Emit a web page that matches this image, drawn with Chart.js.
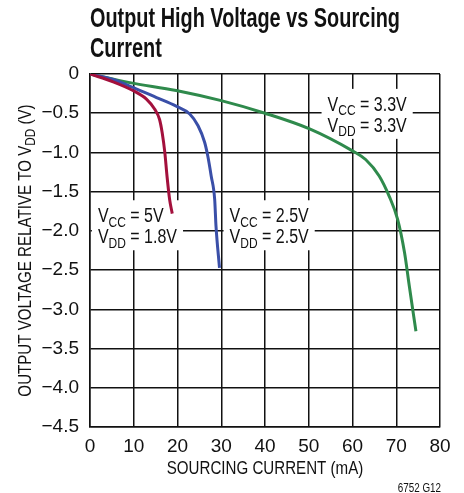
<!DOCTYPE html>
<html lang="en">
<head>
    <meta charset="UTF-8">
    <title>Output High Voltage vs Sourcing Current</title>
    <style>
        body {
            margin: 0;
            padding: 0;
            background: #fff;
        }

        .wrap {
            position: relative;
            width: 464px;
            height: 493px;
        }
    </style>
</head>
<body>
<div class="wrap">
    <canvas id="vohChart" width="464" height="493"></canvas>
</div>
<script src="https://cdn.jsdelivr.net/npm/chart.js"></script>
<script>
    // values (mA, V relative to VDD)
    const redCurrent = [0, 5.3, 9.8, 12.9, 14.8, 15.9, 16.5, 17.1, 17.6, 18.2, 18.8];
    const redVoltage = [0, -0.10, -0.21, -0.32, -0.45, -0.58, -0.75, -1.0, -1.30, -1.60, -1.78];

    const blueCurrent = [0, 5.3, 9.8, 15.2, 19.7, 22.8, 24.7, 26.2, 26.9, 27.7, 28.5, 28.8, 29.6];
    const blueVoltage = [0, -0.07, -0.17, -0.30, -0.41, -0.51, -0.66, -0.87, -1.04, -1.30, -1.60, -1.94, -2.47];

    const greenCurrent = [0, 9.1, 19.7, 30, 40, 50.2, 60, 63, 66.1, 68.4, 70.3, 71.9, 73, 74.5];
    const greenVoltage = [0, -0.11, -0.21, -0.34, -0.50, -0.70, -0.98, -1.09, -1.30, -1.56, -1.85, -2.28, -2.71, -3.28];

    const xTicks = [0, 10, 20, 30, 40, 50, 60, 70, 80];
    const yTicks = [0, -0.5, -1.0, -1.5, -2.0, -2.5, -3.0, -3.5, -4.0, -4.5];

    // curve labels: two lines of [main, subscript, rest], anchor in data units (mA, V)
    const curveLabels = [
        {l1: ['V', 'CC', ' = 5V'], l2: ['V', 'DD', ' = 1.8V'], x: 1.8, y: -1.89},
        {l1: ['V', 'CC', ' = 2.5V'], l2: ['V', 'DD', ' = 2.5V'], x: 31.9, y: -1.89},
        {l1: ['V', 'CC', ' = 3.3V'], l2: ['V', 'DD', ' = 3.3V'], x: 54.3, y: -0.47}
    ];

    const FONT = "'Liberation Sans', Arial, sans-serif";
    const NARROW = 0.8; // the original uses a condensed face

    function toPoints(xs, ys) {
        return xs.map((x, i) => ({x: x, y: ys[i]}));
    }

    function minusLabel(v) {
        if (v === 0) return '0';
        return '\u2212' + Math.abs(v).toFixed(1);
    }

    // text squeezed horizontally by sx
    function narrowText(ctx, str, x, y, font, sx, align) {
        ctx.save();
        ctx.font = font;
        const w = ctx.measureText(str).width * sx;
        let left = x;
        if (align === 'center') left = x - w / 2;
        if (align === 'right') left = x - w;
        ctx.translate(left, y);
        ctx.scale(sx, 1);
        ctx.textAlign = 'left';
        ctx.fillText(str, 0, 0);
        ctx.restore();
        return w;
    }

    // "V" + subscript + rest, squeezed; returns width
    function subText(ctx, parts, x, y, size, sx, measureOnly) {
        const big = size + 'px ' + FONT;
        const small = Math.round(size * 0.75) + 'px ' + FONT;
        ctx.font = big;
        const w1 = ctx.measureText(parts[0]).width;
        const w3 = ctx.measureText(parts[2]).width;
        ctx.font = small;
        const w2 = ctx.measureText(parts[1]).width;
        if (!measureOnly) {
            ctx.save();
            ctx.translate(x, y);
            ctx.scale(sx, 1);
            ctx.textAlign = 'left';
            ctx.font = big;
            ctx.fillText(parts[0], 0, 0);
            ctx.font = small;
            ctx.fillText(parts[1], w1, size * 0.22);
            ctx.font = big;
            ctx.fillText(parts[2], w1 + w2, 0);
            ctx.restore();
        }
        return (w1 + w2 + w3) * sx;
    }

    const textPlugin = {
        id: 'textPlugin',
        beforeDatasetsDraw(chart) {
            const ctx = chart.ctx;
            const xs = chart.scales.x;
            const ys = chart.scales.y;
            ctx.save();
            ctx.textBaseline = 'alphabetic';
            curveLabels.forEach(l => {
                const px = xs.getPixelForValue(l.x);
                const py = ys.getPixelForValue(l.y);
                const w = Math.max(subText(ctx, l.l1, 0, 0, 20, NARROW, true),
                    subText(ctx, l.l2, 0, 0, 20, NARROW, true));
                ctx.fillStyle = '#fff';
                ctx.fillRect(px - 6, py - 22, w + 12, 50);
                ctx.fillStyle = '#111';
                subText(ctx, l.l1, px, py, 20, NARROW, false);
                subText(ctx, l.l2, px, py + 21, 20, NARROW, false);
            });
            ctx.restore();
        },
        afterDraw(chart) {
            const ctx = chart.ctx;
            const area = chart.chartArea;
            ctx.save();
            ctx.fillStyle = '#111';
            ctx.textBaseline = 'alphabetic';

            // title
            narrowText(ctx, 'Output High Voltage vs Sourcing', area.left, 27, 'bold 28px ' + FONT, 0.71, 'left');
            narrowText(ctx, 'Current', area.left, 57, 'bold 28px ' + FONT, 0.71, 'left');

            // x axis title
            narrowText(ctx, 'SOURCING CURRENT (mA)', (area.left + area.right) / 2, 474, '18px ' + FONT, 0.84, 'center');

            // y axis title with subscript
            ctx.save();
            ctx.translate(31, (area.top + area.bottom) / 2);
            ctx.rotate(-Math.PI / 2);
            const parts = ['OUTPUT VOLTAGE RELATIVE TO V', 'DD', ' (V)'];
            const w = subText(ctx, parts, 0, 0, 18, 0.84, true);
            subText(ctx, parts, -w / 2, 0, 18, 0.84, false);
            ctx.restore();

            // figure id
            narrowText(ctx, '6752 G12', 441, 492, '12px ' + FONT, 0.82, 'right');
            ctx.restore();
        }
    };

    const lineStyle = {
        showLine: true,
        pointRadius: 0,
        borderWidth: 3,
        fill: false,
        cubicInterpolationMode: 'monotone'
    };

    new Chart(document.getElementById('vohChart').getContext('2d'), {
        type: 'scatter',
        data: {
            datasets: [
                Object.assign({label: 'VCC = 5V, VDD = 1.8V', data: toPoints(redCurrent, redVoltage), borderColor: '#a3103c'}, lineStyle),
                Object.assign({label: 'VCC = 2.5V, VDD = 2.5V', data: toPoints(blueCurrent, blueVoltage), borderColor: '#3a4fa8'}, lineStyle),
                Object.assign({label: 'VCC = 3.3V, VDD = 3.3V', data: toPoints(greenCurrent, greenVoltage), borderColor: '#2f8a4c'}, lineStyle)
            ]
        },
        options: {
            responsive: false,
            animation: false,
            devicePixelRatio: 1,
            layout: {
                padding: {left: 0, top: 74, right: 24, bottom: 0}
            },
            plugins: {
                legend: {display: false},
                tooltip: {enabled: false}
            },
            scales: {
                x: {
                    type: 'linear',
                    min: 0,
                    max: 80,
                    afterFit(scale) { scale.height = 66; },
                    afterBuildTicks(scale) { scale.ticks = xTicks.map(v => ({value: v})); },
                    grid: {color: '#111', lineWidth: 1.5, drawTicks: false},
                    border: {color: '#111', width: 1.5},
                    ticks: {
                        color: '#111',
                        padding: 8,
                        maxRotation: 0,
                        font: {family: FONT, size: 19}
                    }
                },
                y: {
                    type: 'linear',
                    min: -4.5,
                    max: 0,
                    afterFit(scale) { scale.width = 90; },
                    afterBuildTicks(scale) { scale.ticks = yTicks.map(v => ({value: v})); },
                    grid: {color: '#111', lineWidth: 1.5, drawTicks: false},
                    border: {color: '#111', width: 1.5},
                    ticks: {
                        color: '#111',
                        padding: 11,
                        font: {family: FONT, size: 19},
                        callback: v => minusLabel(v)
                    }
                }
            }
        },
        plugins: [textPlugin]
    });
</script>
</body>
</html>
